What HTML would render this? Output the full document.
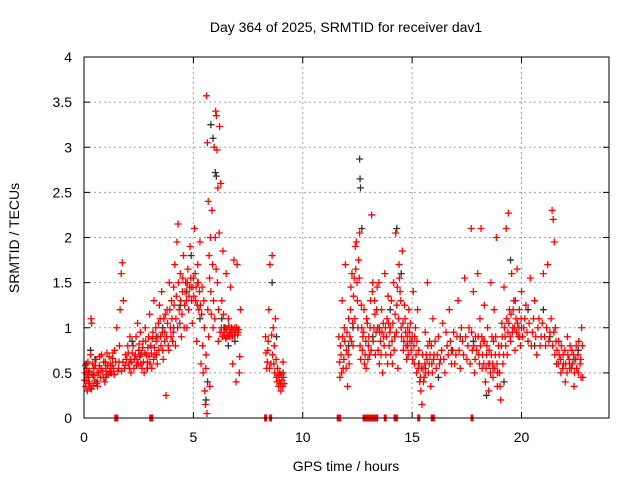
<!DOCTYPE html>
<html><head><meta charset="utf-8"><style>
body{margin:0;background:#fff;}
svg{display:block;font-family:"Liberation Sans",sans-serif;}
</style></head><body>
<svg id="chart" width="640" height="480" viewBox="0 0 640 480">
<rect width="640" height="480" fill="#fff"/>
<text x="346" y="32" font-size="14" text-anchor="middle">Day 364 of 2025, SRMTID for receiver dav1</text>
<text x="346" y="471" font-size="14" text-anchor="middle">GPS time / hours</text>
<text transform="translate(19,238) rotate(-90)" font-size="14" text-anchor="middle">SRMTID / TECUs</text>
<g id="grid"></g>
<g id="ticks"></g>
<g id="black"></g>
<g id="red"></g>
<rect x="84" y="57" width="525" height="361" fill="none" stroke="#000" stroke-width="1"/>
</svg>
<script>
const xTicks=[0,5,10,15,20];
const yTicks=[0,0.5,1,1.5,2,2.5,3,3.5,4];
const yTickLabels=["0","0.5","1","1.5","2","2.5","3","3.5","4"];
const zeroTimes=[1.45,1.5,3.05,3.1,8.3,8.53,11.62,11.68,12.8,12.9,13.0,13.1,13.2,13.3,13.38,13.77,14.22,14.28,15.3,15.92,15.97,17.74];
const redPoints=[
[0.05,0.5],[0.08,0.35],[0.1,0.42],[0.12,0.55],[0.15,0.3],[0.18,0.62],[0.2,0.45],[0.22,0.38],[0.25,0.52],[0.28,0.33],[0.3,0.7],[0.32,1.1],[0.35,1.05],[0.38,0.48],[0.4,0.6],[0.42,0.36],[0.45,0.55],[0.5,0.42],[0.55,0.65],[0.6,0.5],[0.62,0.35],[0.7,0.58],[0.75,0.45],[0.8,0.7],[0.85,0.52],[0.9,0.62],[0.95,0.4],[1.0,0.55],[1.05,0.72],[1.1,0.48],[1.2,0.6],[1.25,0.5],[1.3,0.66],[1.35,0.55],[1.4,0.75],[1.5,1.0],[1.55,0.52],[1.6,0.62],[1.65,1.2],[1.7,1.6],[1.75,1.72],[1.8,1.3],[1.85,0.55],[1.9,0.7],[2.0,0.8],[2.05,0.6],[2.1,0.9],[2.15,0.5],[2.2,0.72],[2.3,0.65],[2.4,0.58],[2.45,1.05],[2.5,0.75],[2.6,0.6],[2.7,0.85],[2.75,0.5],[2.8,1.0],[2.85,0.7],[2.9,0.62],[3.0,1.15],[3.05,0.8],[3.1,0.55],[3.15,0.95],[3.2,1.3],[3.25,0.7],[3.3,0.85],[3.35,0.6],[3.4,1.05],[3.45,1.25],[3.5,0.9],[3.55,1.4],[3.6,0.75],[3.65,1.1],[3.7,0.95],[3.75,0.25],[3.8,1.2],[3.85,0.8],[3.9,1.5],[3.95,1.0],[4.0,1.3],[4.05,0.85],[4.1,1.45],[4.15,1.7],[4.2,1.1],[4.25,1.95],[4.3,2.15],[4.35,1.2],[4.4,1.6],[4.45,0.9],[4.5,1.4],[4.55,1.8],[4.6,1.25],[4.65,1.5],[4.7,1.0],[4.75,1.65],[4.8,1.35],[4.85,1.9],[4.9,1.45],[4.95,1.05],[5.0,1.55],[5.05,2.1],[5.1,1.3],[5.15,0.85],[5.2,1.7],[5.25,1.2],[5.3,1.95],[5.35,0.6],[5.4,1.45],[5.45,0.5],[5.5,1.0],[5.52,0.3],[5.55,0.15],[5.57,0.55],[5.6,3.57],[5.62,0.05],[5.64,3.05],[5.66,1.2],[5.68,2.4],[5.7,0.9],[5.72,1.8],[5.75,0.35],[5.78,2.0],[5.8,1.4],[5.85,2.3],[5.9,1.0],[5.95,3.0],[6.0,2.0],[6.02,3.4],[6.05,3.35],[6.08,2.97],[6.1,1.5],[6.12,2.55],[6.15,1.2],[6.18,2.05],[6.2,3.23],[6.22,0.95],[6.25,2.6],[6.3,1.3],[6.35,1.85],[6.4,0.95],[6.45,1.0],[6.5,1.6],[6.55,0.9],[6.6,1.1],[6.65,0.95],[6.7,1.45],[6.75,1.0],[6.8,0.6],[6.85,1.75],[6.9,1.0],[6.95,0.4],[7.0,1.7],[7.05,0.95],[7.1,0.5],[7.15,1.2],[8.3,0.9],[8.35,0.55],[8.4,0.75],[8.45,1.2],[8.5,1.7],[8.55,0.6],[8.6,1.8],[8.65,1.0],[8.7,0.8],[8.75,1.1],[8.8,0.45],[8.85,0.55],[8.9,0.35],[8.95,0.5],[9.0,0.3],[9.05,0.42],[9.1,0.62],[9.15,0.38],
[11.65,0.9],[11.7,0.45],[11.75,0.7],[11.8,1.3],[11.85,0.55],[11.9,1.0],[11.95,1.7],[12.0,0.75],[12.05,0.35],[12.1,1.1],[12.15,0.9],[12.2,1.45],[12.25,1.6],[12.3,0.8],[12.35,1.55],[12.4,1.9],[12.45,1.95],[12.5,1.3],[12.55,1.75],[12.6,2.05],[12.65,0.65],[12.7,1.0],[12.75,0.9],[12.8,1.2],[12.85,0.7],[12.9,0.55],[12.95,1.05],[13.0,0.8],[13.1,1.3],[13.15,2.25],[13.2,1.5],[13.25,1.0],[13.3,1.15],[13.35,0.95],[13.4,1.45],[13.5,0.6],[13.55,0.85],[13.6,1.2],[13.65,0.5],[13.7,0.9],[13.75,1.6],[13.8,0.7],[13.85,1.1],[13.9,1.35],[13.95,0.8],[14.0,1.0],[14.1,0.6],[14.15,1.5],[14.2,0.9],[14.25,2.05],[14.3,1.25],[14.35,0.55],[14.4,1.7],[14.45,1.4],[14.5,1.0],[14.55,1.85],[14.6,0.75],[14.65,1.25],[14.7,0.95],[14.75,0.65],[14.8,1.0],[14.85,1.2],[14.9,0.85],[15.0,0.9],[15.05,1.4],[15.1,0.6],[15.15,1.0],[15.2,0.5],[15.25,1.2],[15.3,0.75],[15.35,0.4],[15.4,0.3],[15.45,0.15],[15.5,0.55],[15.55,0.45],[15.6,0.95],[15.65,0.7],[15.7,1.5],[15.75,0.5],[15.8,0.85],[15.85,0.35],[15.9,0.6],[15.95,1.1],[16.0,0.7],[16.1,0.55],[16.2,0.9],[16.3,0.65],[16.4,1.05],[16.5,0.5],[16.6,0.8],[16.7,1.2],[16.8,0.6],[16.9,0.95],[17.0,0.7],[17.1,1.3],[17.2,0.55],[17.3,0.85],[17.4,1.55],[17.5,0.65],[17.6,1.0],[17.7,2.1],[17.75,0.75],[17.8,1.4],[17.85,0.5],[17.9,0.9],[18.0,1.6],[18.05,0.7],[18.1,1.1],[18.15,2.1],[18.2,0.55],[18.25,0.85],[18.3,1.25],[18.35,0.4],[18.4,0.7],[18.45,1.0],[18.5,0.3],[18.55,0.6],[18.6,1.5],[18.65,0.9],[18.7,0.45],[18.75,1.2],[18.8,0.7],[18.85,2.0],[18.9,0.35],[18.95,0.8],[19.0,0.5],[19.05,0.2],[19.1,1.05],[19.15,0.6],[19.2,1.45],[19.25,0.9],[19.3,2.1],[19.35,0.7],[19.4,2.27],[19.45,1.2],[19.5,0.85],[19.55,1.6],[19.6,1.0],[19.65,1.3],[19.7,0.75],[19.75,1.1],[19.8,1.65],[19.85,0.9],[19.9,1.2],[19.95,0.8],[20.0,1.4],[20.1,1.0],[20.2,1.25],[20.3,0.85],[20.4,1.55],[20.5,0.95],[20.6,1.3],[20.7,0.7],[20.8,1.1],[20.9,0.9],[21.0,1.6],[21.1,0.8],[21.2,1.7],[21.3,0.95],[21.4,2.3],[21.45,2.2],[21.5,1.95],[21.55,1.0],[21.6,0.6],[21.7,0.85],[21.8,0.5],[21.9,0.7],[22.0,0.4],[22.1,0.9],[22.2,0.55],[22.3,0.75],[22.4,0.35],[22.5,0.8],[22.6,0.5],[22.7,0.65],[22.75,1.0],[22.8,0.45]
];
const redPointsExtra=[
[0.02,0.42],[0.06,0.58],[0.14,0.48],[0.24,0.4],[0.34,0.32],[0.44,0.47],[0.52,0.58],[0.58,0.38],[0.66,0.5],[0.72,0.68],[0.78,0.55],[0.88,0.45],[0.98,0.62],[1.02,0.48],[1.08,0.58],[1.15,0.68],[1.18,0.52],[1.28,0.58],[1.32,0.72],[1.38,0.48],[1.45,0.62],[1.58,0.55],[1.62,0.8],[1.72,0.52],[1.78,0.62],[1.88,0.58],[1.95,0.65],[2.02,0.72],[2.08,0.55],[2.12,0.65],[2.18,0.62],[2.25,0.8],[2.28,0.55],[2.35,0.7],[2.38,0.9],[2.42,0.65],[2.48,0.6],[2.52,0.82],[2.55,0.68],[2.58,0.95],[2.62,0.72],[2.65,0.55],[2.68,0.78],[2.72,0.62],[2.78,0.72],[2.82,0.85],[2.88,0.55],[2.92,0.78],[2.95,0.9],[2.98,0.68],[3.02,0.6],[3.08,0.72],[3.12,0.88],[3.18,0.65],[3.22,0.78],[3.28,1.0],[3.32,0.7],[3.38,0.9],[3.42,0.75],[3.48,1.1],[3.52,0.8],[3.58,0.95],[3.62,0.65],[3.68,0.85],[3.72,1.15],[3.78,0.9],[3.82,1.05],[3.88,0.75],[3.92,1.2],[3.98,0.9],[4.02,1.1],[4.08,0.95],[4.12,1.25],[4.18,0.8],[4.22,1.35],[4.28,1.0],[4.32,1.5],[4.38,1.05],[4.42,1.3],[4.48,1.15],[4.52,1.55],[4.58,1.0],[4.62,1.4],[4.68,1.3],[4.72,1.5],[4.78,1.2],[4.82,1.45],[4.88,1.55],[4.92,1.3],[4.98,1.45],[5.02,1.35],[5.08,1.6],[5.12,1.45],[5.18,1.25],[5.22,1.5],[5.28,1.4],[5.32,1.25],[5.38,1.15],[5.42,0.8],[5.48,1.3],[5.58,0.7],[5.74,1.55],[5.82,1.15],[5.88,1.7],[5.92,1.3],[5.98,1.1],[6.04,1.65],[6.14,0.85],[6.28,1.0],[6.32,0.9],[6.38,1.15],[6.42,0.92],[6.48,0.88],[6.52,0.98],[6.58,0.92],[6.62,1.02],[6.68,0.9],[6.72,0.95],[6.78,0.9],[6.82,0.98],[6.88,0.92],[6.92,0.95],[6.98,1.0],[7.02,0.92],[7.08,0.98],[7.12,0.68],[8.32,0.72],[8.38,0.62],[8.42,0.85],[8.48,0.55],[8.58,0.92],[8.62,0.7],[8.68,0.6],[8.72,0.5],[8.78,0.65],[8.82,0.4],[8.88,0.48],[8.92,0.42],[8.98,0.38],[9.02,0.48],[9.08,0.35],[9.12,0.45],
[11.68,0.62],[11.72,0.8],[11.78,0.5],[11.82,0.9],[11.88,0.65],[11.92,0.85],[11.98,0.55],[12.02,0.95],[12.08,0.7],[12.12,0.6],[12.18,1.2],[12.22,0.85],[12.28,1.05],[12.32,1.35],[12.38,1.1],[12.42,1.65],[12.48,1.5],[12.52,1.0],[12.58,1.55],[12.62,0.8],[12.68,1.25],[12.72,0.75],[12.78,0.95],[12.82,0.6],[12.88,0.85],[12.92,1.1],[12.98,0.65],[13.02,0.9],[13.05,0.7],[13.08,1.0],[13.12,0.75],[13.18,1.4],[13.22,0.85],[13.28,1.3],[13.32,0.7],[13.38,1.2],[13.42,1.0],[13.45,0.75],[13.48,1.5],[13.52,0.95],[13.58,0.7],[13.62,0.95],[13.68,1.05],[13.72,0.8],[13.78,1.0],[13.82,0.9],[13.88,0.6],[13.92,1.05],[13.98,0.95],[14.02,0.7],[14.05,1.3],[14.08,0.85],[14.12,1.05],[14.18,0.75],[14.22,1.15],[14.28,0.95],[14.32,1.45],[14.38,1.1],[14.42,1.55],[14.48,1.3],[14.52,0.9],[14.58,1.05],[14.62,0.85],[14.68,1.1],[14.72,0.8],[14.78,0.9],[14.82,0.7],[14.88,0.95],[14.92,1.05],[14.95,0.75],[14.98,0.85],[15.02,0.65],[15.08,0.8],[15.12,0.9],[15.18,0.7],[15.22,0.85],[15.28,0.55],[15.32,0.6],[15.38,0.45],[15.42,0.55],[15.48,0.7],[15.52,0.4],[15.58,0.6],[15.62,0.5],[15.68,0.65],[15.72,0.8],[15.78,0.6],[15.82,0.7],[15.88,0.8],[15.92,0.5],[15.98,0.65],[16.05,0.85],[16.15,0.7],[16.25,0.6],[16.35,0.75],[16.45,0.65],[16.55,0.95],[16.65,0.7],[16.75,0.85],[16.85,0.75],[16.95,0.6],[17.05,0.9],[17.15,0.75],[17.25,1.0],[17.35,0.7],[17.45,0.9],[17.55,0.8],[17.65,0.6],[17.72,0.95],[17.82,0.8],[17.88,0.65],[17.95,0.75],[18.02,0.9],[18.08,0.6],[18.12,0.8],[18.18,0.9],[18.22,0.7],[18.28,0.6],[18.32,0.85],[18.38,0.55],[18.42,0.8],[18.48,0.6],[18.52,0.75],[18.58,0.5],[18.62,0.7],[18.68,0.6],[18.72,0.85],[18.78,0.55],[18.82,0.9],[18.88,0.6],[18.92,0.5],[18.98,0.7],[19.02,0.35],[19.08,0.8],[19.12,0.9],[19.18,0.7],[19.22,1.0],[19.28,0.8],[19.32,1.1],[19.38,0.95],[19.42,1.05],[19.48,0.9],[19.52,1.15],[19.58,0.95],[19.62,1.2],[19.68,1.0],[19.72,1.3],[19.78,0.95],[19.82,1.05],[19.88,1.0],[19.92,0.9],[19.98,1.1],[20.05,0.9],[20.15,1.1],[20.25,0.95],[20.35,1.05],[20.45,0.8],[20.55,1.1],[20.65,0.9],[20.75,1.0],[20.85,0.8],[20.95,1.05],[21.05,0.9],[21.15,1.0],[21.25,0.85],[21.35,1.1],[21.42,0.8],[21.48,0.95],[21.52,0.7],[21.58,0.85],[21.62,0.75],[21.68,0.6],[21.72,0.7],[21.78,0.65],[21.82,0.8],[21.88,0.55],[21.92,0.6],[21.98,0.75],[22.02,0.6],[22.08,0.5],[22.12,0.7],[22.18,0.65],[22.22,0.8],[22.28,0.55],[22.32,0.6],[22.38,0.7],[22.42,0.5],[22.48,0.65],[22.52,0.55],[22.58,0.7],[22.62,0.85],[22.68,0.6],[22.72,0.45],[22.78,0.8]
];
const blackPoints=[
[0.1,0.6],[0.3,0.75],[0.6,0.4],[1.2,0.5],[2.2,0.85],[2.9,0.55],[3.6,1.0],[4.4,1.25],[4.9,1.8],[5.3,1.1],[5.58,0.2],[5.65,0.4],[5.8,3.25],[5.9,3.1],[6.0,2.72],[6.05,2.68],[6.3,1.1],[6.6,0.8],[8.6,1.5],[8.8,0.9],[9.1,0.5],[12.1,0.8],[12.6,2.87],[12.62,2.65],[12.64,2.55],[12.7,2.1],[13.5,1.0],[14.3,2.1],[14.5,1.6],[15.3,0.6],[16.2,0.45],[17.2,0.9],[18.4,0.25],[18.9,0.5],[19.5,1.75],[20.0,1.0],[20.6,0.8],[21.0,1.2],[22.2,0.6],[22.6,0.75],
[0.2,0.5],[0.5,0.65],[1.0,0.45],[2.6,0.7],[3.3,0.9],[4.1,1.0],[4.7,1.4],[5.2,1.5],[6.4,1.0],[6.9,0.85],[12.3,1.0],[13.2,0.9],[14.0,1.2],[14.8,0.8],[15.6,0.55],[16.8,0.75],[17.8,0.85],[18.7,0.55],[19.2,0.4],[20.3,1.2],[21.3,0.9],[22.4,0.65]
];
const NS="http://www.w3.org/2000/svg";
const X0=84,X1=609,Y0=418,Y1=57;
function xs(t){return X0+(t/24)*(X1-X0);}
function ys(v){return Y0-(v/4)*(Y0-Y1);}
function mk(tag,attrs,parent){const e=document.createElementNS(NS,tag);for(const k in attrs)e.setAttribute(k,attrs[k]);parent.appendChild(e);return e;}
const grid=document.getElementById('grid'),ticks=document.getElementById('ticks');
xTicks.forEach(t=>{
  const x=xs(t);
  if(t>0){const g=mk('line',{x1:x,x2:x,y1:Y1,y2:Y0,stroke:'#a0a0a0','stroke-dasharray':'2,3'},grid);
  
  }
  mk('line',{x1:x,x2:x,y1:Y0,y2:Y0-6,stroke:'#000'},ticks);
  mk('line',{x1:x,x2:x,y1:Y1,y2:Y1+6,stroke:'#000'},ticks);
  const l=mk('text',{x:x,y:442,'font-size':14,'text-anchor':'middle'},ticks);
  l.textContent=String(t);
  
  
});
yTicks.forEach((v,i)=>{
  const y=ys(v);
  if(v>0&&v<4){const g=mk('line',{x1:X0,x2:X1,y1:y,y2:y,stroke:'#a0a0a0','stroke-dasharray':'2,3'},grid);
  
  }
  mk('line',{x1:X0,x2:X0+6,y1:y,y2:y,stroke:'#000'},ticks);
  mk('line',{x1:X1,x2:X1-6,y1:y,y2:y,stroke:'#000'},ticks);
  const l=mk('text',{x:72,y:y+5,'font-size':14,'text-anchor':'end'},ticks);
  l.textContent=yTickLabels[i];
  
  
});
function plus(p,col,parent,name){
  const x=xs(p[0]),y=ys(p[1]);
  const e=mk('path',{d:`M${x-3.5},${y}H${x+3.5}M${x},${y-3.5}V${y+3.5}`,stroke:col,'stroke-width':1.3,fill:'none'},parent);
  
  
}
const bg=document.getElementById('black'),rg=document.getElementById('red');
blackPoints.forEach(p=>plus(p,'#333',bg,'black-point'));
redPoints.forEach(p=>plus(p,'#ff0000',rg,'red-point'));
redPointsExtra.forEach(p=>plus(p,'#ff0000',rg,'red-point'));
zeroTimes.forEach(t=>{
  const r=mk('rect',{x:xs(t)-1.5,y:Y0-3.5,width:3,height:7,fill:'#ff0000'},rg);
  
  
});
</script>
</body></html>
